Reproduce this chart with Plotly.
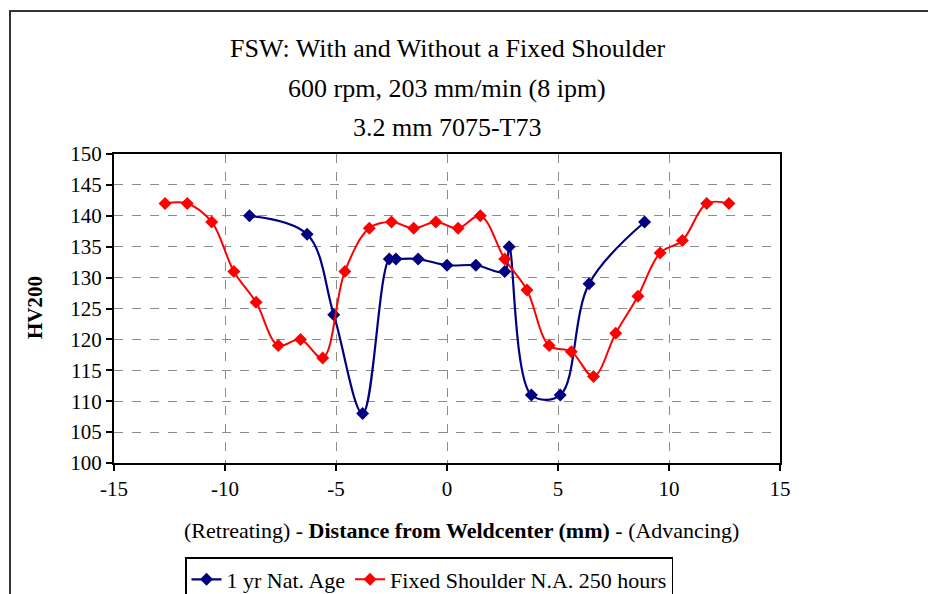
import plotly.graph_objects as go

# Data
blue_name = "1 yr Nat. Age"
blue_x = [-8.9, -6.3, -5.1, -3.8, -2.6, -2.3, -1.3, 0.0, 1.3, 2.6, 2.8, 3.8, 5.1, 6.4, 8.9]
blue_y = [140, 137, 124, 108, 133, 133, 133, 132, 132, 131, 135, 111, 111, 129, 139]

red_name = "Fixed Shoulder N.A. 250 hours"
red_x = [-12.7, -11.7, -10.6, -9.6, -8.6, -7.6, -6.6, -5.6, -4.6, -3.5, -2.5, -1.5, -0.5,
         0.5, 1.5, 2.6, 3.6, 4.6, 5.6, 6.6, 7.6, 8.6, 9.6, 10.6, 11.7, 12.7]
red_y = [142, 142, 139, 131, 126, 119, 120, 117, 131, 138, 139, 138, 139,
         138, 140, 133, 128, 119, 118, 114, 121, 127, 134, 136, 142, 142]

x_ticks = [-15, -10, -5, 0, 5, 10, 15]
y_ticks = [100, 105, 110, 115, 120, 125, 130, 135, 140, 145, 150]

title_lines = ["FSW: With and Without a Fixed Shoulder",
               "600 rpm, 203 mm/min (8 ipm)",
               "3.2 mm 7075-T73"]
y_title = "<b>HV200</b>"
x_title = "(Retreating) - <b>Distance from Weldcenter (mm)</b> - (Advancing)"

FONT = "Liberation Serif"
W, H = 928, 594
L, R, T, B = 114, 780, 154, 463

def px_x(p):
    return (p - L) / (R - L)

def px_y(p):
    return (B - p) / (B - T)

fig = go.Figure()
fig.add_trace(go.Scatter(
    x=blue_x, y=blue_y, name=blue_name, mode="lines+markers",
    line=dict(color="#000080", width=2.2, shape="spline", smoothing=1.0),
    marker=dict(symbol="diamond", size=10, color="#000080"),
))
fig.add_trace(go.Scatter(
    x=red_x, y=red_y, name=red_name, mode="lines+markers",
    line=dict(color="#ff0000", width=2, shape="spline", smoothing=1.0),
    marker=dict(symbol="diamond", size=10, color="#ff0000"),
))

axis_common = dict(
    showline=True, linecolor="black", linewidth=2, mirror=True,
    showgrid=True, gridcolor="#8c8c8c", griddash="dash", gridwidth=1,
    ticks="outside", ticklen=6, tickcolor="black", tickwidth=1.5,
    zeroline=False,
    tickfont=dict(family=FONT, size=21, color="black"),
)

fig.update_xaxes(range=[-15, 15], tickvals=x_ticks, ticktext=[str(v) for v in x_ticks], **axis_common)
fig.update_yaxes(range=[100, 150], tickvals=y_ticks, ticktext=[str(v) for v in y_ticks],
                 ticklabelstandoff=0, **axis_common)

annotations = []
for text, yp in zip(title_lines, [49, 89, 127]):
    annotations.append(dict(text=text, xref="paper", yref="paper", x=0.5, y=px_y(yp),
                            xanchor="center", yanchor="middle", showarrow=False,
                            font=dict(family=FONT, size=26, color="black")))
annotations.append(dict(text=y_title, xref="paper", yref="paper", x=px_x(35), y=px_y(308),
                        xanchor="center", yanchor="middle", textangle=-90, showarrow=False,
                        font=dict(family=FONT, size=21, color="black")))
annotations.append(dict(text=x_title, xref="paper", yref="paper", x=px_x(461), y=px_y(530),
                        xanchor="center", yanchor="middle", showarrow=False,
                        font=dict(family=FONT, size=22, color="black")))

shapes = [dict(type="rect", xref="paper", yref="paper",
               x0=px_x(10), y0=px_y(700), x1=px_x(1100), y1=px_y(11),
               line=dict(color="#333333", width=2), fillcolor="rgba(0,0,0,0)", layer="below")]

fig.update_layout(
    width=W, height=H,
    margin=dict(l=L, r=W - R, t=T, b=H - B, autoexpand=False),
    paper_bgcolor="white", plot_bgcolor="white",
    font=dict(family=FONT, color="black"),
    showlegend=True,
    legend=dict(orientation="h", x=px_x(185), y=px_y(557), xanchor="left", yanchor="top",
                bordercolor="black", borderwidth=1.5, bgcolor="white",
                font=dict(family=FONT, size=22, color="black"),
                itemwidth=30, tracegroupgap=0),
    annotations=annotations,
    shapes=shapes,
)

fig.write_html("out.html")
